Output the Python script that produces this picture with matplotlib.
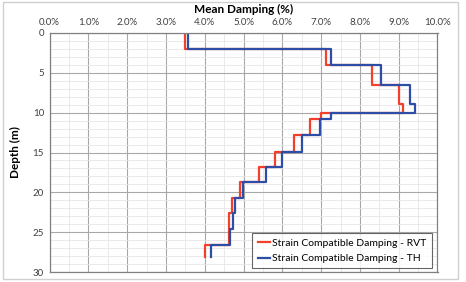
import numpy as np
import matplotlib
matplotlib.use("Agg")
import matplotlib.pyplot as plt
from matplotlib.patches import Rectangle
from matplotlib.ticker import MultipleLocator, PercentFormatter

plt.rcParams['font.family'] = ['Lato', 'DejaVu Sans']

# layer tops (m) and mean damping (%) per layer
layer_top = [0, 2, 4, 6.5, 8.9, 10.05, 10.8, 12.8, 14.9, 16.8, 18.7, 20.7, 22.6, 24.6, 26.6]
bottom_depth = 28.1
damping_rvt = [3.50, 7.12, 8.30, 9.00, 9.11, 7.00, 6.71, 6.30, 5.81, 5.40, 4.90, 4.70, 4.62, 4.62, 4.00]
damping_th = [3.56, 7.25, 8.55, 9.30, 9.42, 7.25, 6.97, 6.52, 6.00, 5.59, 4.99, 4.78, 4.72, 4.66, 4.16]

labels = ["Strain Compatible Damping - RVT", "Strain Compatible Damping - TH"]
colors = ["#F2402B", "#2E4DA7"]


def step_profile(tops, bottom, vals):
    edges = list(tops) + [bottom]
    y = np.repeat(edges, 2)[1:-1]
    x = np.repeat(vals, 2)
    return x, y


fig = plt.figure(figsize=(4.66, 2.82), dpi=100)
fig.patches.append(Rectangle((3 / 466, 3 / 282), 455 / 466, 277 / 282, transform=fig.transFigure,
                             fill=False, edgecolor="#D0D0D0", lw=1.0))
ax = fig.add_axes([49.5 / 466, 10 / 282, 388 / 466, 239 / 282])

for vals, lab, c in zip([damping_rvt, damping_th], labels, colors):
    x, y = step_profile(layer_top, bottom_depth, vals)
    ax.plot(x, y, color=c, lw=1.6, label=lab)

ax.set_xlim(0, 10)
ax.set_ylim(30, 0)
ax.xaxis.tick_top()
ax.xaxis.set_label_position("top")
ax.xaxis.set_major_locator(MultipleLocator(1))
ax.xaxis.set_minor_locator(MultipleLocator(0.5))
ax.xaxis.set_major_formatter(PercentFormatter(decimals=1))
ax.yaxis.set_major_locator(MultipleLocator(5))
ax.yaxis.set_minor_locator(MultipleLocator(1))
ax.tick_params(which="both", length=0, labelsize=7, colors="#404040", pad=4)
ax.grid(which="major", color="#A8A8A8", lw=0.8)
ax.grid(which="minor", color="#E6E6E6", lw=0.6)
ax.set_axisbelow(True)
for s in ax.spines.values():
    s.set_color("#808080")
    s.set_linewidth(0.9)

ax.set_xlabel("Mean Damping (%)", fontsize=8.5, fontweight="bold", labelpad=4)
ax.set_ylabel("Depth (m)", fontsize=8.5, fontweight="bold", labelpad=8)

leg = ax.legend(loc="lower right", bbox_to_anchor=(0.985, 0.015), fontsize=7.5, frameon=True,
                fancybox=False, handlelength=1.2, handletextpad=0.2, borderpad=0.5,
                labelspacing=0.6, borderaxespad=0)
leg.get_frame().set_edgecolor("#404040")
leg.get_frame().set_linewidth(0.8)

fig.savefig("out.png", dpi=100)
